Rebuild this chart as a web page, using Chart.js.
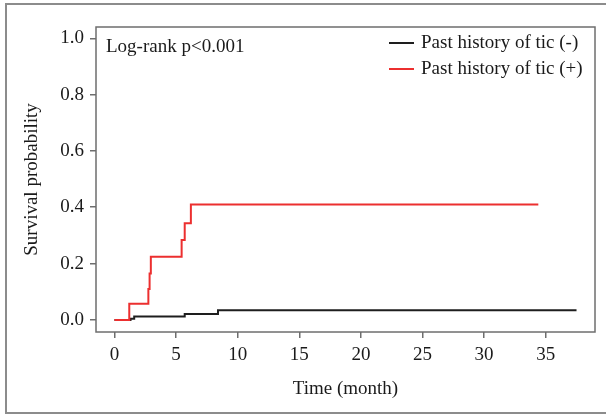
<!DOCTYPE html>
<html>
<head>
<meta charset="utf-8">
<script src="https://cdn.jsdelivr.net/npm/chart.js@4"></script>
<style>
  html, body { margin: 0; padding: 0; background: #fff; }
  #wrap { width: 606px; height: 416px; position: relative; }
</style>
</head>
<body>
<div id="wrap"><canvas id="km"></canvas></div>
<script>
// Kaplan-Meier style curves
const timeNeg = [0, 1.3, 1.6, 5.7, 8.4, 37.5];
const survNeg = [0, 0.004, 0.012, 0.021, 0.034, 0.034];

const timePos = [0, 1.2, 2.75, 2.85, 2.95, 5.45, 5.7, 6.2, 34.4];
const survPos = [0, 0.057, 0.11, 0.165, 0.224, 0.284, 0.343, 0.41, 0.41];

const seriesLabels = ['Past history of tic (-)', 'Past history of tic (+)'];
const seriesColors = ['#1e1e1e', '#ec2f2f'];

const xTicks = [0, 5, 10, 15, 20, 25, 30, 35];
const yTicks = [0, 0.2, 0.4, 0.6, 0.8, 1.0];

const annotation = 'Log-rank p<0.001';

const FONT = 'Liberation Serif';
const TEXT = '#1a1a1a';
const AXIS = '#6e6e6e';

const toPoints = (t, s) => t.map((v, i) => ({ x: v, y: s[i] }));

const framePlugin = {
  id: 'frame',
  beforeDraw(chart) {
    // outer figure frame: left, top and bottom edges only (right edge is cropped)
    const ctx = chart.ctx;
    ctx.save();
    ctx.strokeStyle = '#8c8c8c';
    ctx.lineWidth = 2;
    ctx.beginPath();
    ctx.moveTo(chart.width, 4);
    ctx.lineTo(6, 4);
    ctx.lineTo(6, 413);
    ctx.lineTo(chart.width, 413);
    ctx.stroke();
    ctx.restore();
  },
  afterDatasetsDraw(chart) {
    const { ctx, chartArea: a } = chart;
    ctx.save();
    ctx.strokeStyle = AXIS;
    ctx.lineWidth = 1.5;
    ctx.strokeRect(a.left, a.top, a.right - a.left, a.bottom - a.top);

    ctx.fillStyle = TEXT;
    ctx.font = `19px "${FONT}"`;
    ctx.textBaseline = 'middle';
    ctx.fillText(annotation, a.left + 10, a.top + 20);

    // legend, top right inside the plot
    seriesLabels.forEach((lab, i) => {
      const y = a.top + 16 + i * 26;
      ctx.strokeStyle = seriesColors[i];
      ctx.lineWidth = 2;
      ctx.beginPath();
      ctx.moveTo(a.left + 293, y);
      ctx.lineTo(a.left + 318, y);
      ctx.stroke();
      ctx.fillText(lab, a.left + 325, y);
    });
    ctx.restore();
  }
};

const tickFont = { family: FONT, size: 19 };

new Chart(document.getElementById('km'), {
  type: 'line',
  data: {
    datasets: [
      {
        label: seriesLabels[0],
        data: toPoints(timeNeg, survNeg),
        borderColor: seriesColors[0],
        borderWidth: 2,
        stepped: true,
        pointRadius: 0,
        fill: false,
        order: 1,
      },
      {
        label: seriesLabels[1],
        data: toPoints(timePos, survPos),
        borderColor: seriesColors[1],
        borderWidth: 2,
        stepped: true,
        pointRadius: 0,
        fill: false,
        order: 0,
      },
    ],
  },
  options: {
    responsive: true,
    maintainAspectRatio: false,
    animation: false,
    layout: { padding: { top: 27, right: 11, left: 0, bottom: 0 } },
    plugins: { legend: { display: false }, tooltip: { enabled: false } },
    scales: {
      x: {
        type: 'linear',
        min: -1.5,
        max: 39,
        afterBuildTicks: s => { s.ticks = xTicks.map(v => ({ value: v })); },
        afterFit: s => { s.height = 84; },
        grid: { display: true, drawOnChartArea: false, drawTicks: true, tickLength: 6, color: AXIS, lineWidth: 1.5 },
        border: { display: false },
        ticks: { font: tickFont, color: TEXT, padding: 6, maxRotation: 0 },
        title: { display: true, text: 'Time (month)', font: tickFont, color: TEXT, padding: { top: 0, bottom: 16 } },
      },
      y: {
        min: -0.043,
        max: 1.04,
        afterBuildTicks: s => { s.ticks = yTicks.map(v => ({ value: v })); },
        afterFit: s => { s.width = 96; },
        grid: { display: true, drawOnChartArea: false, drawTicks: true, tickLength: 6, color: AXIS, lineWidth: 1.5 },
        border: { display: false },
        ticks: { font: tickFont, color: TEXT, padding: 6, callback: v => v.toFixed(1) },
        title: { display: true, text: 'Survival probability', font: tickFont, color: TEXT, padding: { top: 21, bottom: 0 } },
      },
    },
  },
  plugins: [framePlugin],
});
</script>
</body>
</html>
